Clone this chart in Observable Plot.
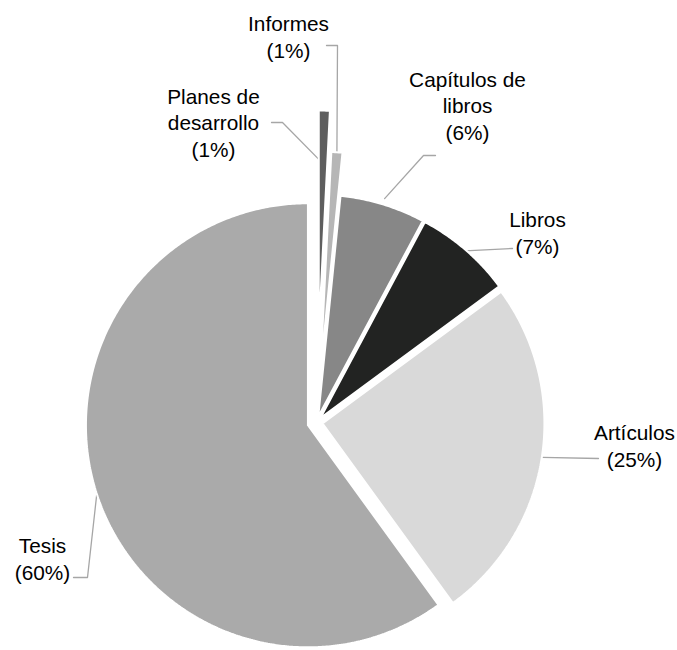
<!DOCTYPE html>
<html><head><meta charset="utf-8">
<script src="https://cdn.jsdelivr.net/npm/d3@7"></script>
<script src="https://cdn.jsdelivr.net/npm/@observablehq/plot@0.6"></script>
<style>body{margin:0;background:#fff;}</style>
</head><body><div id="chart"></div>
<script>
// ---- data ----
const categories = ["Planes de\ndesarrollo", "Informes", "Capítulos de\nlibros", "Libros", "Artículos", "Tesis"];
const values = [0.8, 0.8, 6.2, 7.1, 25.1, 60.0];
const percentLabels = ["1%", "1%", "6%", "7%", "25%", "60%"];
const colors = ["#5e5e5e", "#b6b6b6", "#878787", "#222322", "#d9d9d9", "#aaaaaa"];

// ---- layout ----
const W = 677, H = 650;
const center = [316, 422], R = 222;
const explode = [90, 49, 6, 6, 6, 9];
const labelLayout = [
  {x: 213, y: 156, rLead: 169, pts: [[282, 122], [271, 122]]},
  {x: 288, y: 57,  rLead: 222, pts: [[337, 45], [326, 45]]},
  {x: 467, y: 139, rLead: 228, pts: [[423, 155], [435, 155]]},
  {x: 537, y: 253, rLead: 221, pts: [[512, 248]]},
  {x: 634, y: 466, rLead: 222, pts: [[598, 458]]},
  {x: 42,  y: 579, rLead: 222, pts: [[87, 577], [73, 577]]}
];

const arcs = d3.pie().sort(null).startAngle(0).endAngle(2 * Math.PI)(values);
const slicePts = [], leaderPts = [], labels = [];
arcs.forEach((a, i) => {
  const mid = (a.startAngle + a.endAngle) / 2;
  const ox = center[0] + explode[i] * Math.sin(mid);
  const oy = center[1] - explode[i] * Math.cos(mid);
  const pts = [[ox, oy]];
  const n = Math.max(2, Math.ceil((a.endAngle - a.startAngle) / (Math.PI / 360)));
  for (let k = 0; k <= n; k++) {
    const t = a.startAngle + (a.endAngle - a.startAngle) * k / n;
    pts.push([ox + R * Math.sin(t), oy - R * Math.cos(t)]);
  }
  pts.push([ox, oy]);
  pts.forEach(p => slicePts.push({cat: categories[i], x: p[0], y: p[1], color: colors[i]}));
  const L = labelLayout[i];
  leaderPts.push({cat: categories[i], x: ox + L.rLead * Math.sin(mid), y: oy - L.rLead * Math.cos(mid)});
  L.pts.forEach(p => leaderPts.push({cat: categories[i], x: p[0], y: p[1]}));
  labels.push({x: L.x, y: L.y, text: `${categories[i]}\n(${percentLabels[i]})`});
});

const chart = Plot.plot({
  width: W, height: H, margin: 0,
  x: {domain: [0, W], range: [0, W], axis: null},
  y: {domain: [0, H], range: [0, H], axis: null},
  color: {type: "identity"},
  style: {fontFamily: "'Liberation Sans', Arial, sans-serif", background: "#fff"},
  marks: [
    Plot.line(leaderPts, {x: "x", y: "y", z: "cat", stroke: "#a6a6a6", strokeWidth: 1.3, curve: "linear"}),
    Plot.line(slicePts, {x: "x", y: "y", z: "cat", fill: "color", stroke: "white", strokeWidth: 2, strokeLinejoin: "miter", curve: "linear"}),
    Plot.text(labels, {x: "x", y: "y", text: "text", fontSize: 20.8, lineHeight: 1.27, lineAnchor: "bottom", textAnchor: "middle", fill: "#000"})
  ]
});
document.getElementById("chart").appendChild(chart);
</script>
</body></html>
